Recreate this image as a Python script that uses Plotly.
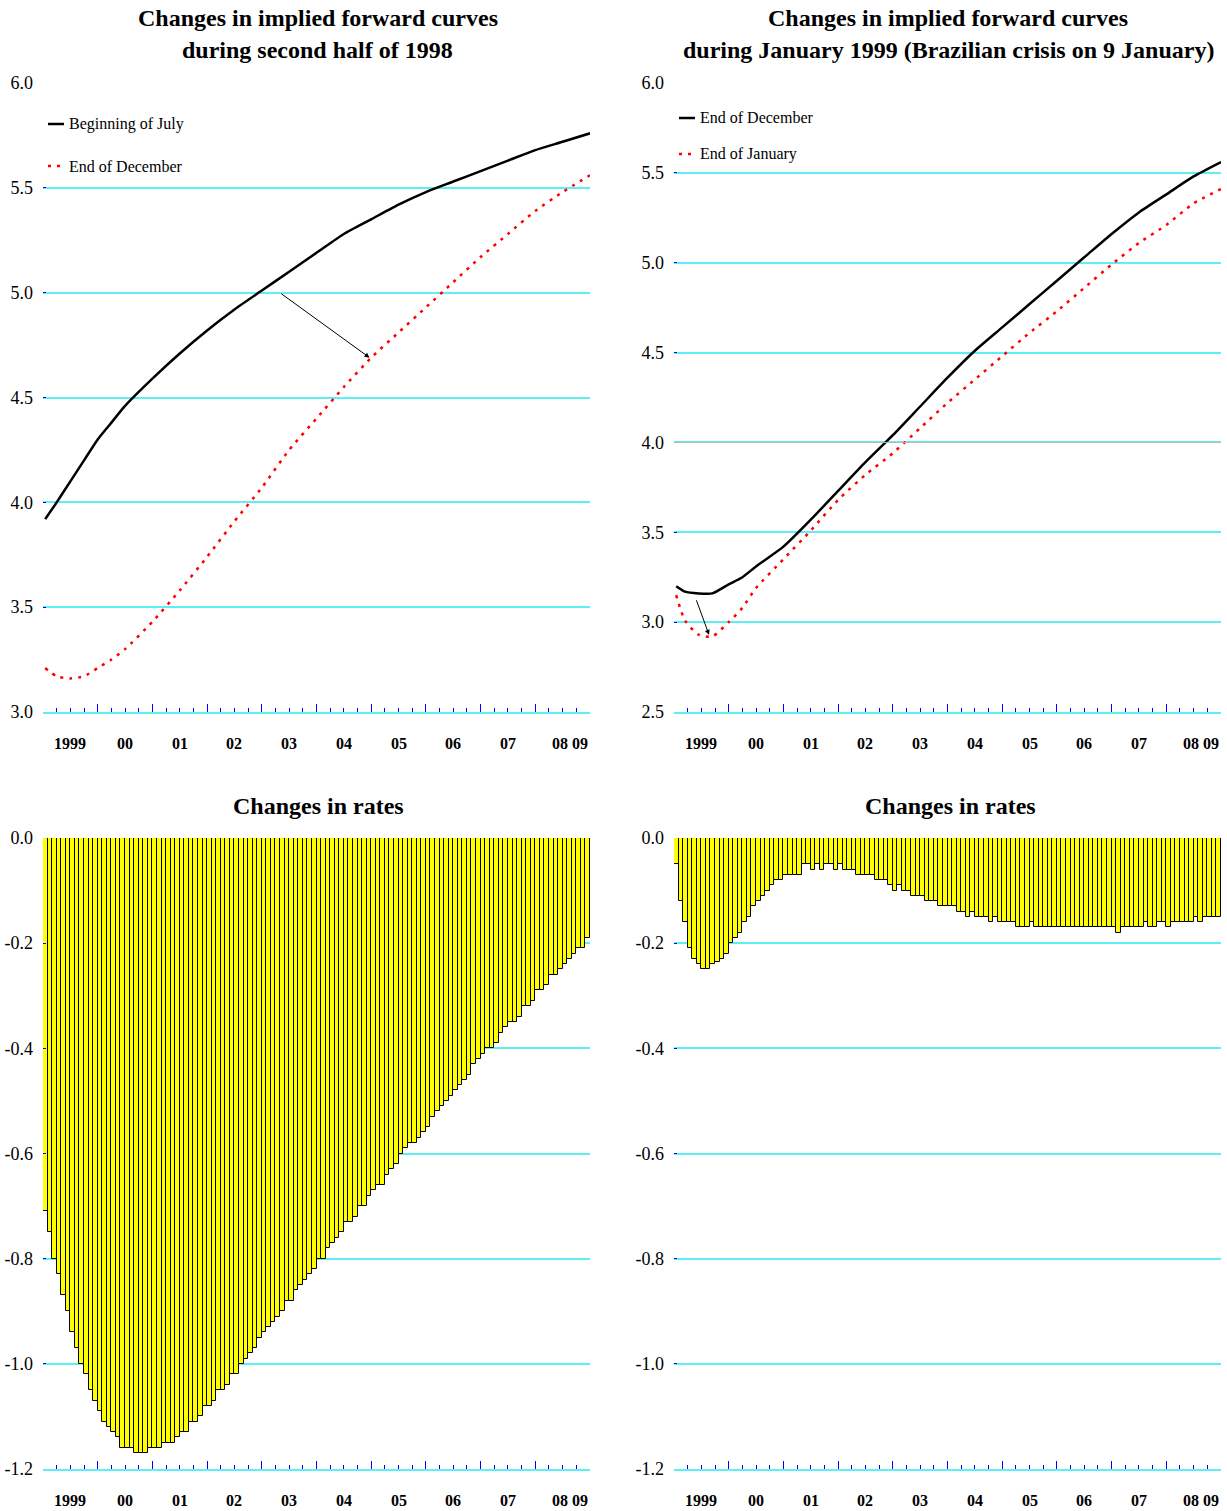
import plotly.graph_objects as go

# ---------------- data ----------------
# Top-left: implied forward curves, second half of 1998 (per cent)
fwd_years_left = [1999.04, 1999.25, 1999.5, 1999.75, 2000.0, 2000.25, 2000.5, 2001.0, 2001.5, 2002.0,
                  2002.5, 2003.0, 2003.5, 2004.0, 2004.5, 2005.0, 2005.5, 2006.0, 2006.5, 2007.0,
                  2007.5, 2008.0, 2008.5, 2009.0]
beginning_of_july = [3.92, 4.00, 4.10, 4.20, 4.30, 4.38, 4.46, 4.59, 4.71, 4.82,
                     4.92, 5.01, 5.10, 5.19, 5.28, 5.35, 5.42, 5.48, 5.53, 5.58,
                     5.63, 5.68, 5.72, 5.76]
end_of_december_98 = [3.21, 3.17, 3.16, 3.17, 3.21, 3.25, 3.30, 3.43, 3.58, 3.74,
                      3.91, 4.07, 4.25, 4.40, 4.55, 4.69, 4.81, 4.93, 5.05, 5.17,
                      5.28, 5.39, 5.48, 5.56]

# Top-right: implied forward curves, January 1999
fwd_years_right = [1999.04, 1999.2, 1999.45, 1999.7, 2000.0, 2000.25, 2000.5, 2001.0, 2001.5, 2002.0,
                   2002.5, 2003.0, 2003.5, 2004.0, 2004.5, 2005.0, 2005.5, 2006.0, 2006.5, 2007.0,
                   2007.5, 2008.0, 2008.5, 2009.0]
end_of_december = [3.20, 3.17, 3.16, 3.16, 3.21, 3.25, 3.31, 3.42, 3.57, 3.73,
                   3.89, 4.04, 4.20, 4.36, 4.51, 4.64, 4.77, 4.90, 5.03, 5.16,
                   5.28, 5.38, 5.48, 5.56]
end_of_january = [3.15, 3.01, 2.93, 2.92, 3.00, 3.08, 3.19, 3.35, 3.51, 3.68,
                  3.82, 3.94, 4.08, 4.22, 4.35, 4.48, 4.61, 4.73, 4.86, 4.99,
                  5.11, 5.21, 5.33, 5.41]

# Monthly buckets Jan 1999 .. Dec 2008
months = [1999 + (i + 0.5) / 12 for i in range(120)]

# Bottom-left: changes in rates, second half of 1998
rate_change_h2_1998 = [
    -0.71, -0.75, -0.80, -0.83, -0.87, -0.90, -0.94, -0.97, -1.00, -1.02,
    -1.05, -1.07, -1.09, -1.11, -1.12, -1.13, -1.14, -1.16, -1.16, -1.16,
    -1.17, -1.17, -1.17, -1.16, -1.16, -1.16, -1.15, -1.15, -1.15, -1.14,
    -1.13, -1.13, -1.11, -1.11, -1.10, -1.08, -1.08, -1.07, -1.05, -1.05,
    -1.04, -1.02, -1.02, -1.00, -0.99, -0.98, -0.97, -0.95, -0.94, -0.93,
    -0.92, -0.91, -0.90, -0.88, -0.88, -0.86, -0.85, -0.84, -0.83, -0.82,
    -0.80, -0.80, -0.78, -0.77, -0.76, -0.75, -0.73, -0.73, -0.72, -0.70,
    -0.70, -0.68, -0.67, -0.66, -0.66, -0.64, -0.63, -0.62, -0.60, -0.59,
    -0.58, -0.58, -0.57, -0.56, -0.55, -0.53, -0.52, -0.51, -0.50, -0.49,
    -0.48, -0.47, -0.46, -0.45, -0.43, -0.42, -0.41, -0.40, -0.40, -0.39,
    -0.37, -0.36, -0.35, -0.35, -0.34, -0.32, -0.32, -0.31, -0.29, -0.29,
    -0.28, -0.26, -0.26, -0.25, -0.24, -0.23, -0.22, -0.21, -0.21, -0.19,
]

# Bottom-right: changes in rates, January 1999
rate_change_jan_1999 = [
    -0.05, -0.12, -0.16, -0.21, -0.23, -0.24, -0.25, -0.25, -0.24, -0.235,
    -0.23, -0.22, -0.20, -0.19, -0.18, -0.16, -0.15, -0.13, -0.12, -0.11,
    -0.10, -0.09, -0.08, -0.08, -0.07, -0.07, -0.07, -0.07, -0.05, -0.05,
    -0.06, -0.05, -0.06, -0.05, -0.05, -0.06, -0.05, -0.06, -0.06, -0.06,
    -0.07, -0.07, -0.07, -0.07, -0.08, -0.08, -0.08, -0.09, -0.10, -0.09,
    -0.10, -0.10, -0.11, -0.11, -0.11, -0.12, -0.12, -0.12, -0.13, -0.13,
    -0.13, -0.13, -0.14, -0.14, -0.15, -0.14, -0.15, -0.15, -0.15, -0.16,
    -0.15, -0.16, -0.16, -0.16, -0.16, -0.17, -0.17, -0.17, -0.16, -0.17,
    -0.17, -0.17, -0.17, -0.17, -0.17, -0.17, -0.17, -0.17, -0.17, -0.17,
    -0.17, -0.17, -0.17, -0.17, -0.17, -0.17, -0.17, -0.18, -0.17, -0.17,
    -0.17, -0.17, -0.17, -0.16, -0.17, -0.17, -0.16, -0.16, -0.17, -0.16,
    -0.16, -0.16, -0.16, -0.16, -0.15, -0.16, -0.15, -0.15, -0.15, -0.15,
]
assert len(rate_change_h2_1998) == 120 and len(rate_change_jan_1999) == 120

year_labels = ["1999", "00", "01", "02", "03", "04", "05", "06", "07", "08", "09"]
year_label_pos = [1999.5, 2000.5, 2001.5, 2002.5, 2003.5, 2004.5, 2005.5, 2006.5, 2007.5, 2008.45, 2009.0]
top_left_ticks = [3.0, 3.5, 4.0, 4.5, 5.0, 5.5, 6.0]
top_right_ticks = [2.5, 3.0, 3.5, 4.0, 4.5, 5.0, 5.5, 6.0]
bottom_ticks = [-1.2, -1.0, -0.8, -0.6, -0.4, -0.2, 0.0]
bottom_tick_text = ["-1.2", "-1.0", "-0.8", "-0.6", "-0.4", "-0.2", "0.0"]

titles = [
    ["Changes in implied forward curves", "during second half of 1998"],
    ["Changes in implied forward curves", "during January 1999 (Brazilian crisis on 9 January)"],
    ["Changes in rates"],
    ["Changes in rates"],
]

# ---------------- layout helpers ----------------
W, H = 1227, 1511
FONT = "Liberation Serif"
GRID = "#5CF0F5"


def fx(p):
    return p / W


def fy(p):
    return 1 - p / H


fig = go.Figure()

fig.add_trace(go.Scatter(x=fwd_years_left, y=beginning_of_july, mode="lines",
                         line=dict(color="black", width=2.5, shape="spline", smoothing=0.6),
                         xaxis="x", yaxis="y", name="Beginning of July"))
fig.add_trace(go.Scatter(x=fwd_years_left, y=end_of_december_98, mode="lines",
                         line=dict(color="red", width=2.5, dash="3px,6px", shape="spline", smoothing=0.6),
                         xaxis="x", yaxis="y", name="End of December"))
fig.add_trace(go.Scatter(x=fwd_years_right, y=end_of_december, mode="lines",
                         line=dict(color="black", width=2.5, shape="spline", smoothing=0.6),
                         xaxis="x2", yaxis="y2", name="End of December"))
fig.add_trace(go.Scatter(x=fwd_years_right, y=end_of_january, mode="lines",
                         line=dict(color="red", width=2.5, dash="3px,6px", shape="spline", smoothing=0.6),
                         xaxis="x2", yaxis="y2", name="End of January"))
fig.add_trace(go.Bar(x=months, y=rate_change_h2_1998, width=1 / 12,
                     marker=dict(color="#FFFF00", line=dict(color="black", width=1)),
                     xaxis="x3", yaxis="y3"))
fig.add_trace(go.Bar(x=months, y=rate_change_jan_1999, width=1 / 12,
                     marker=dict(color="#FFFF00", line=dict(color="black", width=1)),
                     xaxis="x4", yaxis="y4"))

xdom_left = [fx(43), fx(590)]
xdom_right = [fx(674), fx(1221)]
ydom_top = [fy(712), fy(83)]
ydom_bot = [fy(1469), fy(838)]


def xaxis(domain, anchor):
    return dict(domain=domain, anchor=anchor, range=[1999, 2009],
                tickmode="linear", tick0=1999, dtick=1, ticks="inside", ticklen=8,
                tickcolor="blue", tickwidth=1, showticklabels=False, showgrid=False,
                zeroline=False, showline=True, linecolor=GRID, linewidth=2,
                minor=dict(tickmode="linear", tick0=1999, dtick=0.25, ticks="inside",
                           ticklen=4, tickcolor="blue", tickwidth=1, showgrid=False))


def yaxis(domain, anchor, rng, vals, text):
    return dict(domain=domain, anchor=anchor, range=rng, tickmode="array",
                tickvals=vals, ticktext=text, ticks="inside", ticklen=3,
                tickcolor="blue", showgrid=True, gridcolor=GRID, gridwidth=2,
                zeroline=False, showline=False, ticklabelstandoff=9,
                tickfont=dict(family=FONT, size=18, color="black"))


fig.update_layout(
    width=W, height=H, margin=dict(l=0, r=0, t=0, b=0, autoexpand=False),
    paper_bgcolor="white", plot_bgcolor="white", showlegend=False,
    bargap=0,
    xaxis=xaxis(xdom_left, "y"),
    xaxis2=xaxis(xdom_right, "y2"),
    xaxis3=xaxis(xdom_left, "y3"),
    xaxis4=xaxis(xdom_right, "y4"),
    yaxis=yaxis(ydom_top, "x", [3.0, 6.0], top_left_ticks, [f"{v:.1f}" for v in top_left_ticks]),
    yaxis2=yaxis(ydom_top, "x2", [2.5, 6.0], top_right_ticks, [f"{v:.1f}" for v in top_right_ticks]),
    yaxis3=yaxis(ydom_bot, "x3", [-1.2, 0.0], bottom_ticks, bottom_tick_text),
    yaxis4=yaxis(ydom_bot, "x4", [-1.2, 0.0], bottom_ticks, bottom_tick_text),
)

# grey 4.0 gridline in top-right panel
fig.add_shape(type="line", xref="x2 domain", yref="y2", x0=0, x1=1, y0=4.0, y1=4.0,
              line=dict(color="#B8B8B8", width=1), layer="above")

annotations = []
# titles
title_specs = [(318, [18, 50]), (948, [18, 50]), (319, [806]), (950, [806])]
for (cx, ys), lines in zip(title_specs, titles):
    for yy, txt in zip(ys, lines):
        annotations.append(dict(text=txt, xref="paper", yref="paper", x=fx(cx), y=fy(yy),
                                xanchor="center", yanchor="middle", showarrow=False,
                                font=dict(family=FONT, size=24, color="black", weight="bold")))

# x-axis year labels
for xa, ypix in (("x", 743), ("x2", 743), ("x3", 1500), ("x4", 1500)):
    for i, (lbl, pos) in enumerate(zip(year_labels, year_label_pos)):
        anchor = "right" if i == len(year_labels) - 1 else "center"
        annotations.append(dict(text=lbl, xref=xa, yref="paper", x=pos, y=fy(ypix),
                                xanchor=anchor, yanchor="middle", showarrow=False,
                                font=dict(family=FONT, size=16, color="black", weight="bold")))

# legends
legend_items = [
    (48, 124, "black", "solid", "Beginning of July"),
    (48, 166, "red", "3px,6px", "End of December"),
    (679, 118, "black", "solid", "End of December"),
    (679, 154, "red", "3px,6px", "End of January"),
]
for x0, yy, col, dash, txt in legend_items:
    fig.add_shape(type="line", xref="paper", yref="paper", x0=fx(x0), x1=fx(x0 + 16),
                  y0=fy(yy), y1=fy(yy), line=dict(color=col, width=2.5, dash=dash))
    annotations.append(dict(text=txt, xref="paper", yref="paper", x=fx(x0 + 19), y=fy(yy),
                            xanchor="left", yanchor="middle", showarrow=False,
                            font=dict(family=FONT, size=16, color="black")))

# arrows
annotations.append(dict(x=2004.97, y=4.69, ax=2003.33, ay=5.0, xref="x", yref="y",
                        axref="x", ayref="y", text="", showarrow=True, arrowhead=2,
                        arrowsize=1, arrowwidth=1, arrowcolor="black"))
annotations.append(dict(x=1999.64, y=2.93, ax=1999.4, ay=3.13, xref="x2", yref="y2",
                        axref="x2", ayref="y2", text="", showarrow=True, arrowhead=2,
                        arrowsize=1, arrowwidth=1, arrowcolor="black"))

fig.update_layout(annotations=annotations)

fig.write_html("out.html", config={"displayModeBar": False},
               post_script="document.body.style.margin='0';")
